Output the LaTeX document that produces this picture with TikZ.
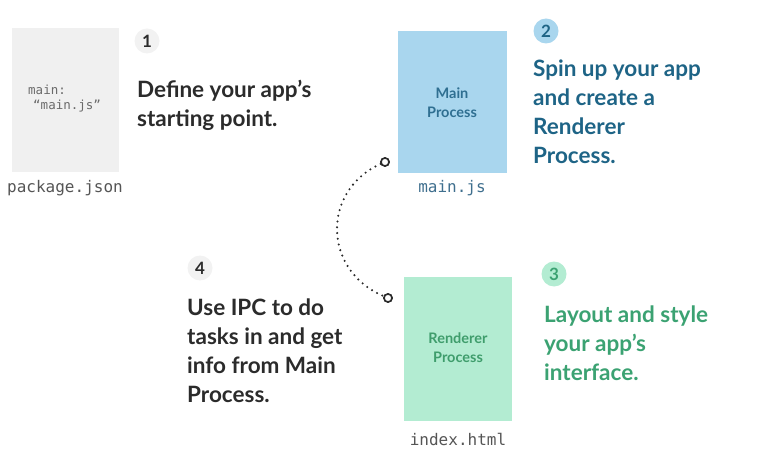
\documentclass[tikz,border=0pt]{standalone}
\usepackage{fontspec}
\setmainfont{Lato}
\setmonofont{DejaVu Sans Mono}
\definecolor{ink}{HTML}{2B2B2B}
\definecolor{pkgfill}{HTML}{F0F0F0}
\definecolor{numgray}{HTML}{F2F2F2}
\definecolor{bluefill}{HTML}{A9D6EE}
\definecolor{bluetext}{HTML}{1E6486}
\definecolor{bluelabel}{HTML}{2F6F91}
\definecolor{bluemono}{HTML}{3F6F8E}
\definecolor{greenfill}{HTML}{B3ECD2}
\definecolor{greentext}{HTML}{3BA272}
\definecolor{greenlabel}{HTML}{3F9D6C}
\definecolor{monogray}{HTML}{555555}
\definecolor{codegray}{HTML}{6A6A6A}
\begin{document}
% multi-line headings are anchored at the baseline of their last line
\begin{tikzpicture}[x=1pt,y=-1pt,
  heading/.style={anchor=base west,align=left,inner sep=0pt,
    font=\fontsize{22.5}{29}\selectfont\bfseries},
  numdot/.style={circle,minimum size=25pt,inner sep=0pt,
    font=\fontsize{17}{17}\selectfont\bfseries},
  filebox/.style={anchor=north west,inner sep=0pt},
  boxlabel/.style={align=center,inner sep=0pt,
    font=\fontsize{14.5}{19}\selectfont\bfseries},
  filename/.style={anchor=base,inner sep=0pt,
    font=\fontsize{16}{16}\selectfont\ttfamily},
  endring/.style={circle,draw=ink,line width=1.6pt,minimum size=8pt,inner sep=0pt,fill=white},
  ipclink/.style={draw=ink,line width=2.3pt,dash pattern=on 0pt off 5.8pt,line cap=round}]
\useasboundingbox (0,0) rectangle (778,470);

% step 1: package.json
\node[filebox,fill=pkgfill,minimum width=107pt,minimum height=144pt] (pkg) at (12,28) {};
\node[anchor=base west,inner sep=0pt,align=left,text=codegray,
  font=\fontsize{12.5}{15}\selectfont\ttfamily] (pkgtext) at (28,110)
  {main:\\\hspace*{5pt}“main.js”};
\node[filename,text=monogray] (pkgname) at (65,193) {package.json};
\node[numdot,fill=numgray,text=ink] (n1) at (147,41) {1};
\node[heading,text=ink] (t1) at (137,127) {Define your app’s\\starting point.};

% step 2: main process
\node[filebox,fill=bluefill,minimum width=109pt,minimum height=142pt] (mainbox) at (398,31) {};
\node[boxlabel,text=bluelabel] (mainlbl) at (452,103) {Main\\Process};
\node[filename,text=bluemono] (mainname) at (452,193) {main.js};
\node[numdot,fill=bluefill,text=bluetext] (n2) at (546,31) {2};
\node[heading,text=bluetext] (t2) at (533,164) {Spin up your app\\and create a\\Renderer\\Process.};

% step 3: renderer process
\node[filebox,fill=greenfill,minimum width=108pt,minimum height=144pt] (rendbox) at (404,277) {};
\node[boxlabel,text=greenlabel] (rendlbl) at (458,348) {Renderer\\Process};
\node[filename,text=monogray] (rendname) at (458,445) {index.html};
\node[numdot,fill=greenfill,text=greentext] (n3) at (554,274) {3};
\node[heading,text=greentext] (t3) at (544,380) {Layout and style\\your app’s\\interface.};

% step 4: IPC between the two processes
\node[numdot,fill=numgray,text=ink] (n4) at (200,268) {4};
\node[heading,text=ink] (t4) at (187,402) {Use IPC to do\\tasks in and get\\info from Main\\Process.};

\node[endring] (ringtop) at (385,162) {};
\node[endring] (ringbot) at (388,298) {};
\draw[ipclink] (ringtop) .. controls (322,190) and (322,270) .. (ringbot);
\node[endring] at (ringtop) {};
\node[endring] at (ringbot) {};
\end{tikzpicture}
\end{document}
